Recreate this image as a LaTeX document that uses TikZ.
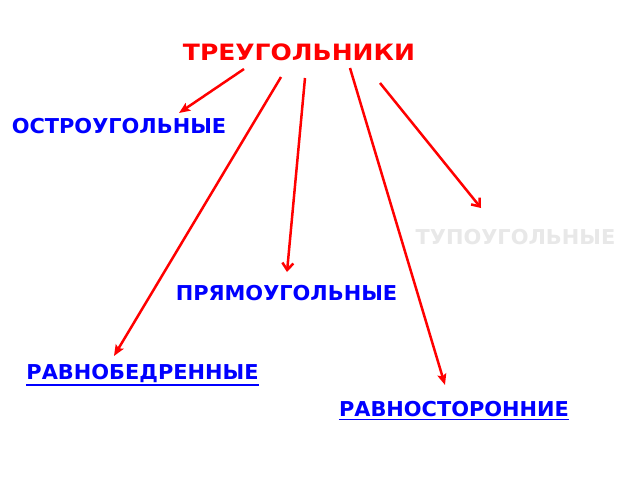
\documentclass[tikz,border=0pt]{standalone}
\usepackage{fontspec}
\setmainfont{DejaVu Sans}
\usetikzlibrary{arrows.meta}
\begin{document}
\begin{tikzpicture}[x=1pt,y=-1pt,
  lbl/.style={font=\fontsize{20.5}{24}\selectfont\bfseries, inner sep=0pt, text=blue, xscale=1.02, transform shape},
  conn/.style={draw=red, line width=2.5pt},
  filled/.style={conn, -{Stealth[length=11pt,width=9pt,inset=2pt]}},
  open/.style={conn, -{Straight Barb[length=7pt,width=11pt]}}]
\fill[white] (0,0) rectangle (640,480);
\useasboundingbox (0,0) rectangle (640,480);
\node[lbl, text=red, font=\fontsize{22.5}{26}\selectfont\bfseries, xscale=1.09] (title) at (299,52) {ТРЕУГОЛЬНИКИ};
\node[lbl] (ostro) at (119,126) {ОСТРОУГОЛЬНЫЕ};
\node[lbl, text={rgb,255:red,232;green,232;blue,232}] (tupo) at (515.5,237) {ТУПОУГОЛЬНЫЕ};
\node[lbl] (pryamo) at (286.5,293) {ПРЯМОУГОЛЬНЫЕ};
\node[lbl] (ravnob) at (142.5,373) {РАВНОБЕДРЕННЫЕ};
\node[lbl] (ravnos) at (454,409) {РАВНОСТОРОННИЕ};
\draw[blue, line width=1.5pt] (ravnob.south west) ++(0,2.5) coordinate (u1) -- (u1 -| ravnob.south east);
\draw[blue, line width=1.5pt] (ravnos.south west) ++(0,2.5) coordinate (u2) -- (u2 -| ravnos.south east);
\coordinate (s1) at (244,69); \coordinate (e1) at (179,113);
\coordinate (s2) at (281,77); \coordinate (e2) at (114,356);
\coordinate (s3) at (305,78); \coordinate (e3) at (287,272);
\coordinate (s4) at (350,68); \coordinate (e4) at (445,385);
\coordinate (s5) at (380,83); \coordinate (e5) at (481,208);
\draw[filled] (s1) -- (e1);
\draw[filled] (s2) -- (e2);
\draw[open] (s3) -- (e3);
\draw[filled] (s4) -- (e4);
\draw[open] (s5) -- (e5);
\end{tikzpicture}
\end{document}
